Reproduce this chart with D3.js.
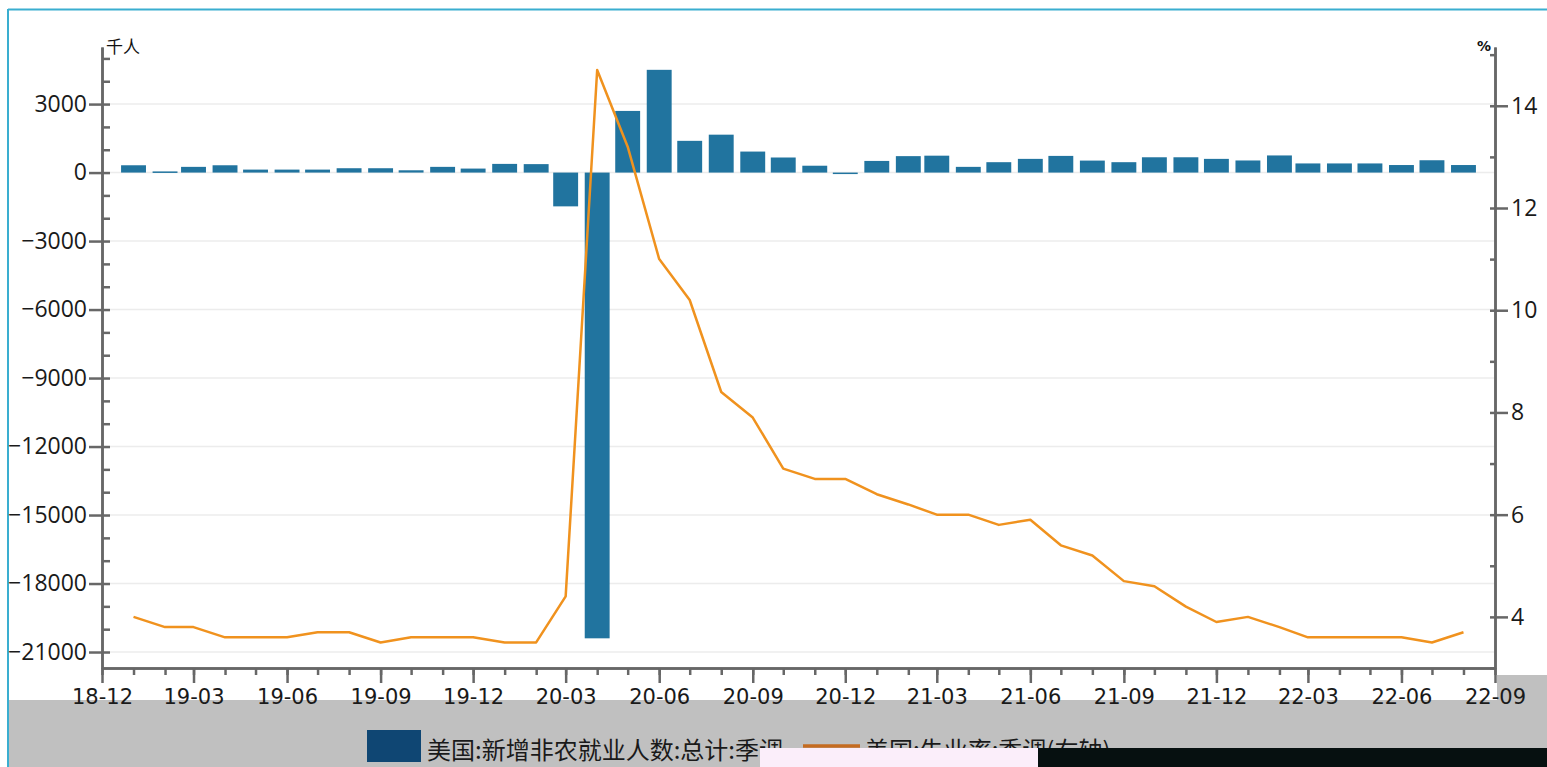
<!DOCTYPE html>
<html><head><meta charset="utf-8">
<script src="https://cdn.jsdelivr.net/npm/d3@7"></script>
<style>
html,body{margin:0;padding:0;background:#fff;}
svg{display:block;}
</style></head>
<body>
<svg id="chart" width="1547" height="767"></svg>
<script>
// ---- data ----
const months = ["2019-01","2019-02","2019-03","2019-04","2019-05","2019-06","2019-07","2019-08","2019-09","2019-10","2019-11","2019-12",
"2020-01","2020-02","2020-03","2020-04","2020-05","2020-06","2020-07","2020-08","2020-09","2020-10","2020-11","2020-12",
"2021-01","2021-02","2021-03","2021-04","2021-05","2021-06","2021-07","2021-08","2021-09","2021-10","2021-11","2021-12",
"2022-01","2022-02","2022-03","2022-04","2022-05","2022-06","2022-07","2022-08"];
const payrolls = [320,50,250,320,130,130,130,190,190,100,250,175,
380,370,-1480,-20400,2700,4500,1390,1660,920,660,300,-60,
510,720,740,250,455,600,730,525,455,670,670,600,
530,750,400,400,400,330,540,330];
const unemployment = [4.0,3.8,3.8,3.6,3.6,3.6,3.7,3.7,3.5,3.6,3.6,3.6,
3.5,3.5,4.4,14.7,13.2,11.0,10.2,8.4,7.9,6.9,6.7,6.7,
6.4,6.2,6.0,6.0,5.8,5.9,5.4,5.2,4.7,4.6,4.2,3.9,
4.0,3.8,3.6,3.6,3.6,3.6,3.5,3.7];
const leftTicks = [3000,0,-3000,-6000,-9000,-12000,-15000,-18000,-21000];
const rightTicks = [4,6,8,10,12,14];
const xTickLabels = ["18-12","19-03","19-06","19-09","19-12","20-03","20-06","20-09","20-12","21-03","21-06","21-09","21-12","22-03","22-06","22-09"];
const xStart = "2018-12", xEnd = "2022-09";
const seriesNames = ["美国:新增非农就业人数:总计:季调","美国:失业率:季调(右轴)"];
const leftUnit = "千人", rightUnit = "%";

// ---- layout ----
const svg = d3.select("#chart");
const L = 102, R = 1495, T = 47, B = 668;
const parse = d3.timeParse("%Y-%m");
const parseTick = d3.timeParse("%y-%m");
const dates = months.map(parse);

const x = d3.scaleTime().domain([parse(xStart), parse(xEnd)]).range([L, R]);
const yL = d3.scaleLinear().domain([-21700, 5500]).range([B, T]);
const yR = d3.scaleLinear().domain([3, 15.15]).range([B, T]);

// frame / backgrounds
svg.append("rect").attr("x",0).attr("y",0).attr("width",1547).attr("height",767).attr("fill","#fff");
svg.append("rect").attr("x",9).attr("y",700).attr("width",1538).attr("height",67).attr("fill","#c0c0c0");
svg.append("rect").attr("x",R+2).attr("y",675).attr("width",1547-R-2).attr("height",30).attr("fill","#c0c0c0");
svg.append("line").attr("x1",8).attr("x2",1547).attr("y1",9.5).attr("y2",9.5).attr("stroke","#3aaed0").attr("stroke-width",2);
svg.append("line").attr("x1",8).attr("x2",8).attr("y1",9).attr("y2",767).attr("stroke","#3aaed0").attr("stroke-width",2);

// gridlines
svg.append("g").selectAll("line").data(leftTicks).join("line")
  .attr("x1",L).attr("x2",R).attr("y1",d=>yL(d)).attr("y2",d=>yL(d))
  .attr("stroke","#ececec").attr("stroke-width",1.5);

// bars
const monthW = x(parse("2019-02")) - x(parse("2019-01"));
const bw = monthW*0.79;
svg.append("g").selectAll("rect").data(payrolls).join("rect")
  .attr("x",(d,i)=>x(dates[i])-bw/2)
  .attr("width",bw)
  .attr("y",d=>Math.min(yL(d),yL(0)))
  .attr("height",d=>Math.max(1.5,Math.abs(yL(d)-yL(0))))
  .attr("fill","#21749f");

// line
const line = d3.line().x((d,i)=>x(dates[i])).y(d=>yR(d));
svg.append("path").datum(unemployment).attr("d",line)
  .attr("fill","none").attr("stroke","#f0921e").attr("stroke-width",2.5).attr("stroke-linejoin","round");

const axisColor = "#676767";
function styleAxis(g){
  g.select(".domain").attr("stroke",axisColor).attr("stroke-width",2.5);
  g.selectAll(".tick line").attr("stroke",axisColor).attr("stroke-width",2.5);
  g.selectAll("text").attr("fill","#1a1a1a");
}

// left axis minor (inward)
const gLm = svg.append("g").attr("transform",`translate(${L},0)`)
  .call(d3.axisRight(yL).tickValues(d3.range(-21000,5001,1000)).tickSizeInner(8).tickSizeOuter(0).tickFormat(""));
styleAxis(gLm);
// left axis major
const gL = svg.append("g").attr("transform",`translate(${L},0)`)
  .call(d3.axisLeft(yL).tickValues(leftTicks).tickSizeInner(13).tickSizeOuter(0).tickPadding(2).tickFormat(d3.format("d")));
styleAxis(gL);
gL.selectAll("text").attr("font-family","'Open Sans','Noto Sans',sans-serif").attr("font-size",23);

// right axis minor
const gRm = svg.append("g").attr("transform",`translate(${R},0)`)
  .call(d3.axisLeft(yR).tickValues(d3.range(3,15.01,1)).tickSizeInner(5).tickSizeOuter(0).tickFormat(""));
styleAxis(gRm);
const gR = svg.append("g").attr("transform",`translate(${R},0)`)
  .call(d3.axisRight(yR).tickValues(rightTicks).tickSizeInner(13).tickSizeOuter(0).tickPadding(3).tickFormat(d3.format("d")));
styleAxis(gR);
gR.selectAll("text").attr("font-family","'Open Sans','Noto Sans',sans-serif").attr("font-size",23);

// x axis minor (monthly)
const gXm = svg.append("g").attr("transform",`translate(0,${B})`)
  .call(d3.axisBottom(x).tickValues(d3.timeMonth.range(parse(xStart), d3.timeMonth.offset(parse(xEnd),1))).tickSizeInner(7).tickSizeOuter(0).tickFormat(""));
styleAxis(gXm);
// x axis major (quarterly, labelled)
const gX = svg.append("g").attr("transform",`translate(0,${B})`)
  .call(d3.axisBottom(x).tickValues(xTickLabels.map(parseTick)).tickSizeInner(15).tickSizeOuter(0).tickPadding(6).tickFormat(d3.timeFormat("%y-%m")));
styleAxis(gX);
gX.selectAll("text").attr("font-family","'DejaVu Sans',sans-serif").attr("font-size",21);

// unit labels
svg.append("text").attr("x",L+4).attr("y",53).text(leftUnit)
  .attr("font-family","'Noto Sans CJK SC',sans-serif").attr("font-size",17).attr("fill","#111");
svg.append("text").attr("x",R-4).attr("y",51).attr("text-anchor","end").text(rightUnit)
  .attr("font-family","'DejaVu Sans',sans-serif").attr("font-size",14).attr("font-weight","bold").attr("fill","#111");

// legend
const lg = svg.append("g");
lg.append("rect").attr("x",367).attr("y",730).attr("width",54).attr("height",32).attr("fill","#0f4673");
lg.append("text").attr("x",427).attr("y",759).text(seriesNames[0])
  .attr("font-family","'Noto Sans CJK SC',sans-serif").attr("font-size",24).attr("fill","#1a1a1a");
lg.append("line").attr("x1",803).attr("x2",860).attr("y1",746).attr("y2",746).attr("stroke","#c56b20").attr("stroke-width",3.5);
lg.append("text").attr("x",865).attr("y",759).text(seriesNames[1])
  .attr("font-family","'Noto Sans CJK SC',sans-serif").attr("font-size",24).attr("fill","#1a1a1a");

// screen artifacts at bottom of reference
svg.append("rect").attr("x",760).attr("y",748).attr("width",278).attr("height",19).attr("fill","#fbeefa");
svg.append("rect").attr("x",1038).attr("y",748).attr("width",509).attr("height",19).attr("fill","#061010");
</script>
</body></html>
